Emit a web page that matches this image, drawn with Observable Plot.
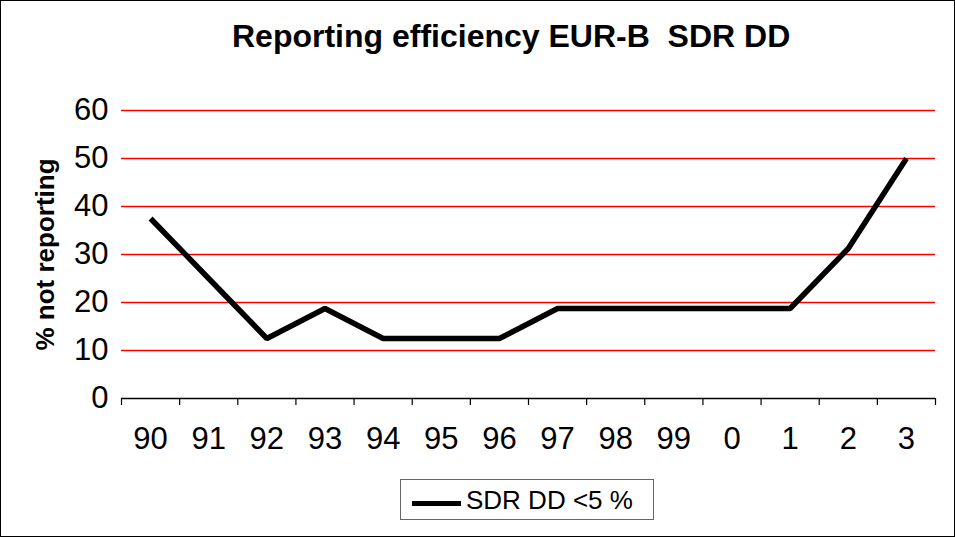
<!DOCTYPE html>
<html>
<head>
<meta charset="utf-8">
<script src="https://cdn.jsdelivr.net/npm/d3@7"></script>
<script src="https://cdn.jsdelivr.net/npm/@observablehq/plot@0.6"></script>
<style>
  html, body { margin: 0; padding: 0; background: #fff; }
  #wrap { position: relative; width: 955px; height: 537px; box-sizing: border-box; border: 1px solid #000; background: #fff; font-family: "Liberation Sans", Arial, sans-serif; overflow: hidden; }
  #title { position: absolute; left: 231px; top: 19px; font-size: 32px; font-weight: bold; line-height: 32px; white-space: pre; color: #000; z-index: 2; }
  #chart { position: absolute; left: 0; top: 75px; }
  #legend { position: absolute; left: 399px; top: 478px; width: 254px; height: 41px; box-sizing: border-box; border: 1px solid #666; background: #fff; }
  #legend .swatch { position: absolute; left: 11px; top: 21px; width: 49px; height: 5px; background: #000; }
  #legend .lbl { position: absolute; left: 65px; top: 5px; font-size: 26px; line-height: 30px; white-space: pre; color: #000; }
</style>
</head>
<body>
<div id="wrap">
  <div id="title"></div>
  <div id="chart"></div>
  <div id="legend"><div class="swatch"></div><div class="lbl"></div></div>
</div>
<script>
const titleText = "Reporting efficiency EUR-B  SDR DD";
const yLabel = "% not reporting";
const seriesName = "SDR DD <5 %";
const years = ["90", "91", "92", "93", "94", "95", "96", "97", "98", "99", "0", "1", "2", "3"];
const values = [37.5, 25, 12.5, 18.75, 12.5, 12.5, 12.5, 18.75, 18.75, 18.75, 18.75, 18.75, 31.25, 50];
const yTicks = [0, 10, 20, 30, 40, 50, 60];
const gridValues = [10, 20, 30, 40, 50, 60];

document.getElementById("title").textContent = titleText;
document.querySelector("#legend .lbl").textContent = seriesName;

const data = years.map((y, i) => ({ i, year: y, value: values[i] }));
const idx = years.map((_, i) => i);
const bounds = years.map((_, i) => i - 0.5).concat([years.length - 0.5]);

const chart = Plot.plot({
  width: 953,
  height: 395,
  marginLeft: 120,
  marginRight: 19,
  marginTop: 34,
  marginBottom: 73,
  style: { fontFamily: "'Liberation Sans', Arial, sans-serif", background: "transparent", color: "#000", overflow: "visible" },
  x: { type: "linear", domain: [-0.5, years.length - 0.5] },
  y: { type: "linear", domain: [0, 60] },
  marks: [
    Plot.ruleY(gridValues, { stroke: "#ff0000", strokeWidth: 1.5 }),
    Plot.axisY({ ticks: yTicks, tickSize: 0, tickPadding: 13, fontSize: 31, label: null, tickFormat: d => String(d) }),
    Plot.axisX({ ticks: bounds, tickSize: 7, tickFormat: () => "", label: null, stroke: "#000", strokeWidth: 1.2 }),
    Plot.axisX({ ticks: idx, tickSize: 0, tickPadding: 28, fontSize: 31, label: null, tickFormat: i => years[i] }),
    Plot.ruleY([0], { stroke: "#000", strokeWidth: 1.5 }),
    Plot.line(data, { x: "i", y: "value", stroke: "#000", strokeWidth: 5.5, strokeLinejoin: "miter", strokeLinecap: "butt" }),
    Plot.text([yLabel], { frameAnchor: "left", textAnchor: "middle", lineAnchor: "middle", rotate: -90, dx: -76, fontSize: 26, fontWeight: "bold", fill: "#000" })
  ]
});
document.getElementById("chart").appendChild(chart);
</script>
</body>
</html>
